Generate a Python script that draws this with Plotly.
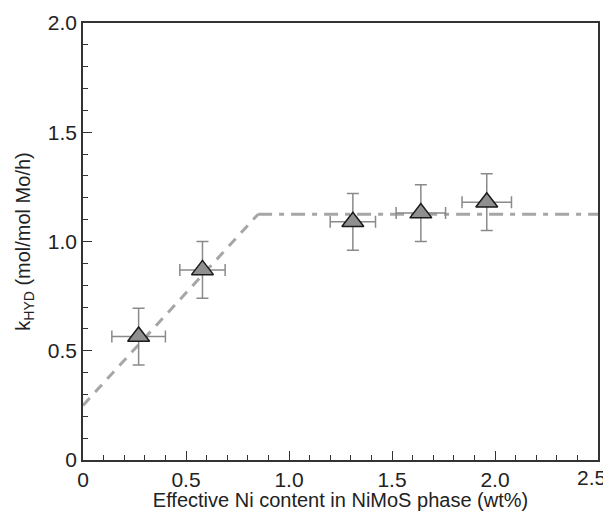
import plotly.graph_objects as go

ni_content = [0.27, 0.58, 1.31, 1.64, 1.96]
k_hyd = [0.565, 0.87, 1.09, 1.13, 1.18]
k_err = [0.13, 0.13, 0.13, 0.13, 0.13]
ni_err = [0.13, 0.11, 0.11, 0.12, 0.12]

slope_x = [0.0, 0.85]
slope_y = [0.25, 1.125]
flat_x = [0.85, 2.5]
flat_y = [1.125, 1.125]

x_ticks = [0, 0.5, 1.0, 1.5, 2.0, 2.5]
x_ticklabels = ["0", "0.5", "1.0", "1.5", "2.0", "2.5"]
y_ticks = [0, 0.5, 1.0, 1.5, 2.0]
y_ticklabels = ["0", "0.5", "1.0", "1.5", "2.0"]

fig = go.Figure()
fig.add_trace(go.Scatter(x=slope_x, y=slope_y, mode="lines",
                         line=dict(color="#a6a6a6", width=3, dash="10px,8px"),
                         showlegend=False))
fig.add_trace(go.Scatter(x=flat_x, y=flat_y, mode="lines",
                         line=dict(color="#a6a6a6", width=3, dash="14px,7px,5px,7px"),
                         showlegend=False))
fig.add_trace(go.Scatter(
    x=ni_content, y=k_hyd, mode="markers",
    marker=dict(symbol="triangle-up", size=19, color="#8f8f8f",
                line=dict(color="#1a1a1a", width=1.5)),
    error_y=dict(type="data", array=k_err, color="#8a8a8a", thickness=1.5, width=6),
    error_x=dict(type="data", array=ni_err, color="#8a8a8a", thickness=1.5, width=6),
    showlegend=False))

axis_font = dict(family="Liberation Sans, Arial, sans-serif", size=21, color="#222")

# last x tick label would overflow the page edge; draw it as an edge-aligned annotation
x_ticktext_axis = x_ticklabels[:-1] + [""]
fig.add_annotation(x=x_ticks[-1], xref="x", y=0, yref="paper",
                   text=x_ticklabels[-1], showarrow=False,
                   xanchor="right", yanchor="top", xshift=9, yshift=-5,
                   borderpad=0, font=axis_font)

fig.update_layout(
    width=603, height=503,
    margin=dict(l=75, r=13, t=15, b=51, autoexpand=False),
    plot_bgcolor="white", paper_bgcolor="white",
    font=dict(family="Liberation Sans, Arial, sans-serif", color="#222"),
    xaxis=dict(range=[0, 2.5], tickvals=x_ticks, ticktext=x_ticktext_axis,
               ticks="inside", ticklen=9, tickcolor="#333", tickwidth=1.2,
               minor=dict(ticks="inside", dtick=0.1, ticklen=5, tickcolor="#333", tickwidth=1),
               showline=True, mirror=True, linecolor="#333", linewidth=1.5,
               showgrid=False, zeroline=False, tickfont=axis_font,
               automargin=False,
               title=dict(text="Effective Ni content in NiMoS phase (wt%)",
                          font=dict(size=20, color="#222"), standoff=0)),
    yaxis=dict(range=[0, 2.0], tickvals=y_ticks, ticktext=y_ticklabels,
               ticks="inside", ticklen=9, tickcolor="#333", tickwidth=1.2,
               minor=dict(ticks="inside", dtick=0.1, ticklen=5, tickcolor="#333", tickwidth=1),
               showline=True, mirror=True, linecolor="#333", linewidth=1.5,
               showgrid=False, zeroline=False, tickfont=axis_font,
               ticklabeloverflow="allow",
               automargin=False,
               title=dict(text="k<sub>HYD</sub> (mol/mol Mo/h)",
                          font=dict(size=20, color="#222"), standoff=12)),
)

fig.write_html("out.html")
